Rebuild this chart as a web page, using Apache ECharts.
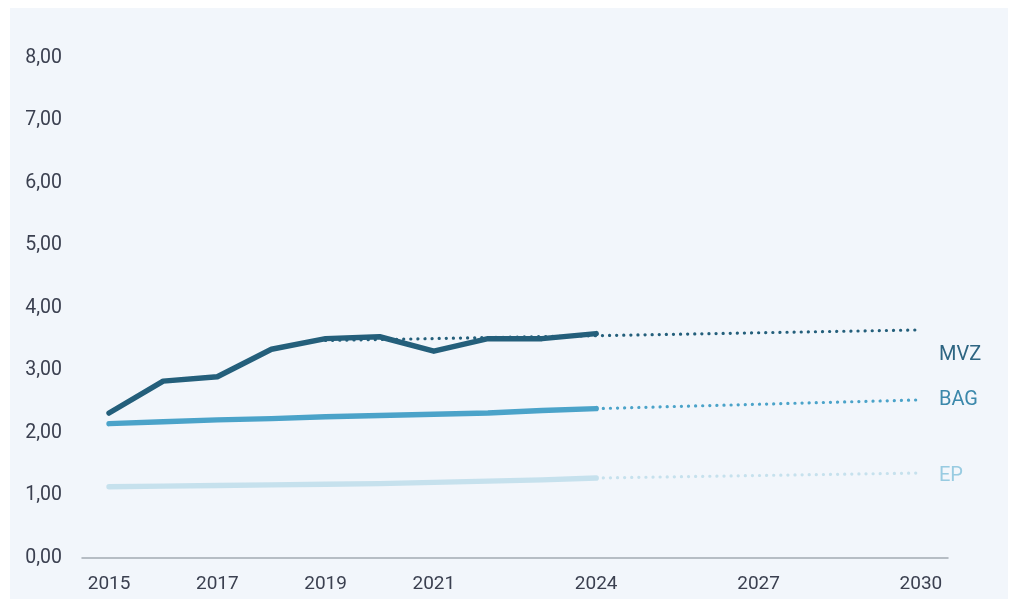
<!DOCTYPE html>
<html>
<head>
<meta charset="utf-8">
<script src="https://cdn.jsdelivr.net/npm/echarts@6/dist/echarts.min.js"></script>
<style>
  html, body { margin: 0; padding: 0; background: #ffffff; }
  #chart { width: 1011px; height: 599px; }
</style>
</head>
<body>
<div id="chart"></div>
<script>
// Years on the category axis (one slot per year)
const years = ['2015','2016','2017','2018','2019','2020','2021','2022','2023','2024',
               '2025','2026','2027','2028','2029','2030'];
// Years that get a tick label
const xTickLabels = ['2015','2017','2019','2021','2024','2027','2030'];
const yTickValues = [0, 1, 2, 3, 4, 5, 6, 7, 8];

// Observed values 2015–2024
const mvz = [2.32, 2.83, 2.90, 3.34, 3.51, 3.54, 3.31, 3.51, 3.51, 3.59];
const bag = [2.15, 2.18, 2.21, 2.23, 2.26, 2.28, 2.30, 2.32, 2.36, 2.39];
const ep  = [1.14, 1.15, 1.16, 1.17, 1.18, 1.19, 1.21, 1.23, 1.25, 1.28];

// Trend lines: [start year, start value, end year, end value]
const mvzTrend = ['2019', 3.48, '2030', 3.65];
const bagTrend = ['2024', 2.39, '2030', 2.53];
const epTrend  = ['2024', 1.28, '2030', 1.36];

const colors = { MVZ: '#245f7b', BAG: '#4ba3c9', EP: '#c6e1ed' };
const labelColors = { MVZ: '#2e6582', BAG: '#3b88ab', EP: '#98cbe1' };

function trendData(t) {
  return years.map(y => (y === t[0] ? t[1] : (y === t[2] ? t[3] : null)));
}

function solidSeries(name, values) {
  return {
    name: name, type: 'line', data: values, symbol: 'none', z: 3,
    lineStyle: { color: colors[name], width: 5.5, cap: 'round', join: 'round' }
  };
}

function trendSeries(name, t, labelOffsetY) {
  return {
    name: name + ' Trend', type: 'line', data: trendData(t), connectNulls: true,
    symbol: 'none', z: 4,
    lineStyle: { color: colors[name], width: 3.2, type: [0.1, 7], cap: 'round' },
    endLabel: {
      show: true, formatter: name, distance: 18, offset: [0, labelOffsetY],
      color: labelColors[name], fontSize: 20, fontFamily: 'Roboto'
    }
  };
}

const chart = echarts.init(document.getElementById('chart'));
chart.setOption({
  backgroundColor: '#ffffff',
  animation: false,
  graphic: [{
    type: 'rect', z: -10, silent: true,
    shape: { x: 10, y: 8, width: 998, height: 591 },
    style: { fill: '#f2f6fb' }
  }],
  grid: { left: 82, right: 63, top: 58, bottom: 41 },
  xAxis: {
    type: 'category', data: years, boundaryGap: true,
    axisLine: { lineStyle: { color: '#a3aab2', width: 1.5 } },
    axisTick: { show: false },
    axisLabel: {
      interval: (i, v) => xTickLabels.includes(v),
      color: '#3b4050', fontSize: 19, fontFamily: 'Roboto', margin: 17
    }
  },
  yAxis: {
    type: 'value', min: yTickValues[0], max: yTickValues[yTickValues.length - 1], interval: 1,
    axisLine: { show: false }, axisTick: { show: false }, splitLine: { show: false },
    axisLabel: {
      color: '#3b4050', fontSize: 19.5, fontFamily: 'Roboto', margin: 20,
      formatter: v => v.toFixed(2).replace('.', ',')
    }
  },
  series: [
    solidSeries('EP', ep),
    solidSeries('BAG', bag),
    solidSeries('MVZ', mvz),
    trendSeries('EP', epTrend, 3),
    trendSeries('BAG', bagTrend, 0),
    trendSeries('MVZ', mvzTrend, 25)
  ]
});
</script>
</body>
</html>
